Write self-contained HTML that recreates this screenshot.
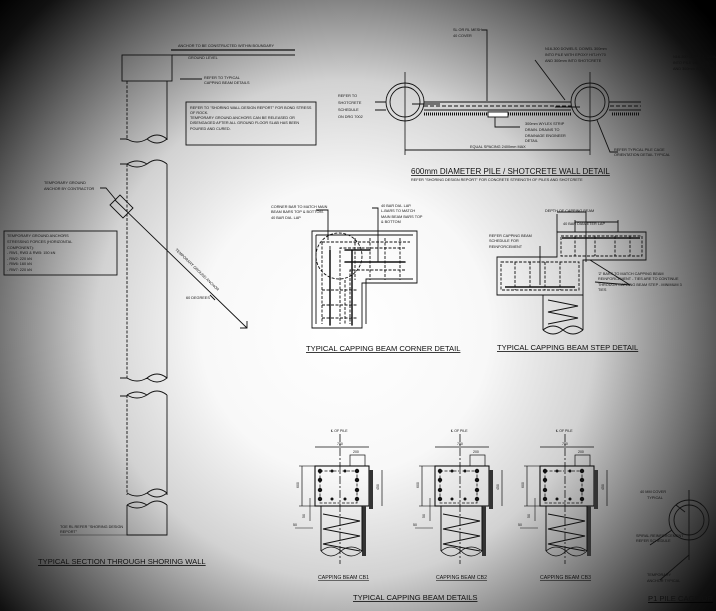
<!DOCTYPE html>
<html><head><meta charset="utf-8"><style>
html,body{margin:0;padding:0;background:#fff}
svg{display:block}
text{font-family:"Liberation Sans",sans-serif;fill:#111}
</style></head><body>
<svg width="716" height="611" viewBox="0 0 716 611" xmlns="http://www.w3.org/2000/svg">
<defs>
<radialGradient id="vg" gradientUnits="userSpaceOnUse" cx="345" cy="330" r="480">
<stop offset="0" stop-color="#ffffff"/>
<stop offset="0.3" stop-color="#f8f8f8"/>
<stop offset="0.52" stop-color="#d2d2d2"/>
<stop offset="0.75" stop-color="#666"/>
<stop offset="0.92" stop-color="#111"/>
<stop offset="1" stop-color="#000"/>
</radialGradient>
<g id="cb">
<line x1="25" y1="-32" x2="25" y2="98" stroke="#111" stroke-width="0.8" stroke-dasharray="8,2,2,2"/>
<line x1="0" y1="-19" x2="54" y2="-19" stroke="#111" stroke-width="0.7"/>
<rect x="35" y="-11" width="15" height="11" fill="none" stroke="#111" stroke-width="0.7"/>
<rect x="0" y="0" width="54" height="40" fill="none" stroke="#111" stroke-width="1.1"/>
<rect x="5" y="5" width="37" height="32" fill="none" stroke="#111" stroke-width="0.8" stroke-dasharray="3,1.5"/>
<g fill="#111"><circle cx="5" cy="5" r="2.2"/><circle cx="17" cy="5" r="1.5"/><circle cx="30" cy="5" r="1.5"/><circle cx="42" cy="5" r="2.2"/>
<circle cx="5" cy="14" r="2.2"/><circle cx="5" cy="24" r="2.2"/><circle cx="5" cy="33" r="2.2"/><circle cx="42" cy="14" r="2.2"/><circle cx="42" cy="24" r="2.2"/><circle cx="42" cy="33" r="2.2"/><circle cx="17" cy="33" r="1.5"/><circle cx="30" cy="33" r="1.5"/></g>
<line x1="-13" y1="0" x2="-13" y2="40" stroke="#111" stroke-width="0.7"/>
<line x1="-16" y1="0" x2="0" y2="0" stroke="#111" stroke-width="0.6"/><line x1="-16" y1="40" x2="0" y2="40" stroke="#111" stroke-width="0.6"/>
<line x1="67" y1="4" x2="67" y2="40" stroke="#111" stroke-width="0.7"/>
<rect x="54" y="4" width="4" height="39" fill="#333"/>
<rect x="47" y="40" width="4" height="50" fill="#333"/>
<path d="M6 40 V85 M47 40 V85" stroke="#111" stroke-width="1" fill="none"/>
<path d="M6 85 q10 10 20 0 q10 -8 21 0 M6 85 q10 -8 20 0 q10 10 21 0" stroke="#111" stroke-width="0.8" fill="none"/>
<path d="M8 48 L45 55 L8 63 L45 70 L8 78 L45 85" stroke="#111" stroke-width="1" fill="none"/>
<line x1="-5" y1="32" x2="-5" y2="55" stroke="#111" stroke-width="0.6"/>
<line x1="-20" y1="62" x2="-2" y2="62" stroke="#111" stroke-width="0.6"/>
<text x="-22" y="60" font-size="3.5">50</text>
<text x="-10" y="52" font-size="3.5" transform="rotate(-90 -10 52)">50</text>
<text x="-16" y="22" font-size="3.5" transform="rotate(-90 -16 22)">600</text>
<text x="64" y="24" font-size="3.5" transform="rotate(-90 64 24)">450</text>
<text x="22" y="-21" font-size="3.5">750</text><text x="38" y="-13" font-size="3.5">200</text>
<text x="16" y="-34" font-size="3.5">℄ OF PILE</text>
</g>
</defs>
<rect width="716" height="611" fill="url(#vg)"/>
<g stroke="#111" fill="none" stroke-width="0.9">
<line x1="171" y1="50" x2="295" y2="50" stroke-width="1.2"/>
<line x1="172" y1="55" x2="295" y2="55"/>
<rect x="122" y="55" width="50" height="26"/>
<line x1="180" y1="79" x2="202" y2="79"/>
<line x1="167" y1="81" x2="167" y2="140"/>
<line x1="127" y1="81" x2="127" y2="140" stroke-dasharray="3,1.5"/>
<path d="M120 139 h7 q10 6 20 0 q10 -8 20 0 q-10 8 -20 0 M127 164 q10 -6 20 0 q10 -8 20 0 M147 164 q-10 6 -20 0 M120 164 h7"/>
<line x1="167" y1="164" x2="167" y2="378"/>
<line x1="127" y1="164" x2="127" y2="378" stroke-dasharray="3,1.5"/>
<path d="M120 378 h7 q10 6 20 0 q10 -8 20 0 q-10 8 -20 0 M127 395 q10 -6 20 0 q10 -8 20 0 M147 395 q-10 6 -20 0 M120 396 h7"/>
<line x1="167" y1="395" x2="167" y2="495"/>
<line x1="127" y1="395" x2="127" y2="495" stroke-dasharray="3,1.5"/>
<path d="M127 493 q10 6 20 0 q10 -8 20 0 q-10 8 -20 0 M127 505 q10 -6 20 0 q10 -8 20 0 M147 505 q-10 6 -20 0"/>
<path d="M127 505 V535 H167 V505"/>
<line x1="60" y1="535" x2="127" y2="535" stroke-width="0.4"/>
<path d="M110 205 L120 195 L133 208 L123 218 Z"/>
<line x1="115" y1="200" x2="247" y2="328"/>
<path d="M240 328 H247 V321"/>
<path d="M100 188 L106 188 L116 200"/>
<rect x="186" y="102" width="130" height="43"/>
<rect x="4" y="231" width="113" height="44"/>
<line x1="210" y1="295" x2="215" y2="300"/>
<line x1="405" y1="72" x2="405" y2="155" stroke-width="0.8"/>
<line x1="590" y1="72" x2="590" y2="155" stroke-width="0.8"/>
<line x1="405" y1="150" x2="590" y2="150"/>
<circle cx="405" cy="102" r="19"/><circle cx="405" cy="102" r="15"/>
<circle cx="590" cy="102" r="19"/><circle cx="590" cy="102" r="15"/>
<path d="M375 102 H386 M375 110 H386 M424 102 H571 M424 110 H571 M609 102 H641 M609 110 H641"/>
<line x1="424" y1="106" x2="571" y2="106" stroke-dasharray="4,2"/>
<line x1="610" y1="106" x2="641" y2="106" stroke-dasharray="4,2"/>
<line x1="424" y1="114" x2="571" y2="114" stroke-width="3" stroke-dasharray="1,1"/>
<line x1="612" y1="114" x2="640" y2="114" stroke-width="3" stroke-dasharray="1,1"/>
<rect x="488" y="112" width="20" height="5" fill="#fff"/>
<path d="M482 30 H487 V101 M535 60 L565 100 M495 117 V127 H520 M597 120 L610 152 H618 M412 104 H440 M555 107 H580"/>
<path d="M312 231 H417 V283 H362 V328 H312 Z"/>
<path d="M316 235 H413 M316 235 V324 M413 279 H366 V324"/>
<circle cx="339" cy="256" r="23" stroke-dasharray="3,1.5"/>
<path d="M322 242 H410 M322 242 V324 M405 248 H340 V324 M405 270 H350 V324 M322 290 H358 M322 305 H358 M322 318 H358" stroke-dasharray="3,1.5"/>
<path d="M355 238 V280 M370 238 V280 M385 238 V280 M400 238 V280 M330 246 V324 M345 280 V324" stroke-dasharray="3,1.5"/>
<path d="M330 250 V325 M352 250 V325 M345 250 H370 M345 262 H405" stroke-width="1.5" stroke-linecap="round"/>
<path d="M316 210 H328 V240 M372 208 H378 V262"/>
<path d="M497 257 H557 V232 H646 V260 H583 V295 H497 Z"/>
<path d="M543 295 V330 M583 295 V330"/>
<path d="M543 330 q10 8 20 0 q10 -8 20 0 M543 330 q10 -8 20 0 q10 8 20 0"/>
<path d="M548 300 L578 306 L548 312 L578 318 L548 324" />
<path d="M501 262 H579 V290 H501 Z M561 236 H642 V256 H561 Z" stroke-dasharray="3,1.5"/>
<path d="M515 262 V290 M530 262 V290 M545 262 V290 M560 262 V290 M575 236 V256 M595 236 V256 M615 236 V256 M630 236 V256" stroke-dasharray="3,1.5"/>
<path d="M505 287 H575 M562 238 H640" stroke-width="1.5"/>
<path d="M557 212 H586 M557 214 V232 M586 212 V262 M575 222 H618 M575 220 V232 M618 220 V232"/>
<path d="M540 246 V285 M590 260 L630 285 M595 282 L630 285"/>
<circle cx="689" cy="520" r="20"/><circle cx="689" cy="520" r="15"/>
<line x1="689" y1="490" x2="689" y2="560"/>
<path d="M676 505 L685 512 M672 530 L650 545 M689 555 L660 580"/>
</g>
<use href="#cb" x="315" y="466"/>
<use href="#cb" x="435" y="466"/>
<use href="#cb" x="540" y="466"/>
<g font-size="3.8">
<text x="178" y="47">ANCHOR TO BE CONSTRUCTED WITHIN BOUNDARY</text>
<text x="188" y="59">GROUND LEVEL</text>
<text x="204" y="79">REFER TO TYPICAL</text><text x="204" y="84">CAPPING BEAM DETAILS</text>
<text x="190" y="109">REFER TO "SHORING WALL DESIGN REPORT" FOR BOND STRESS</text>
<text x="190" y="114">OF ROCK.</text>
<text x="190" y="119">TEMPORARY GROUND ANCHORS CAN BE RELEASED OR</text>
<text x="190" y="124">DISENGAGED AFTER ALL GROUND FLOOR SLAB HAS BEEN</text>
<text x="190" y="130">POURED AND CURED.</text>
<text x="44" y="184">TEMPORARY GROUND</text><text x="44" y="190">ANCHOR BY CONTRACTOR</text>
<text x="7" y="237">TEMPORARY GROUND ANCHORS</text><text x="7" y="243">STRESSING FORCES (HORIZONTAL</text><text x="7" y="249">COMPONENT):</text>
<text x="7" y="254">- RW1, RW3 &amp; RW5: 150 kN</text><text x="7" y="260">- RW2: 220 kN</text><text x="7" y="265">- RW6: 160 kN</text><text x="7" y="271">- RW7: 220 kN</text>
<text x="186" y="299">60 DEGREES</text>
<text x="175" y="250" transform="rotate(44 175 250)">TEMPORARY GROUND ANCHOR</text>
<text x="60" y="528">TOE RL REFER "SHORING DESIGN</text><text x="60" y="533">REPORT"</text>
<text x="338" y="97">REFER TO</text><text x="338" y="104">SHOTCRETE</text><text x="338" y="111">SCHEDULE</text><text x="338" y="118">ON DRG 7002</text>
<text x="453" y="31">SL OR RL MESH</text><text x="453" y="37">40 COVER</text>
<text x="545" y="50">N16-300 DOWELS. DOWEL 300mm</text><text x="545" y="56">INTO PILE WITH EPOXY HIT-HY70</text><text x="545" y="62">AND 300mm INTO SHOTCRETE</text>
<text x="673" y="58">N16-300 DOWELS. DOW</text><text x="673" y="64">INTO PILE WITH EPOX</text><text x="673" y="70">AND 300mm INTO SHO</text>
<text x="525" y="125">300mm WYLEX STRIP</text><text x="525" y="131">DRAIN. DRAINS TO</text><text x="525" y="137">DRAINAGE ENGINEER</text><text x="525" y="142">DETAIL</text>
<text x="470" y="148">EQUAL SPACING 2400mm MAX</text>
<text x="614" y="151">REFER TYPICAL PILE CAGE</text><text x="614" y="156">ORIENTATION DETAIL TYPICAL</text>
<text x="411" y="181">REFER "SHORING DESIGN REPORT" FOR CONCRETE STRENGTH OF PILES AND SHOTCRETE</text>
<text x="271" y="208">CORNER BAR TO MATCH MAIN</text><text x="271" y="213">BEAM BARS TOP &amp; BOTTOM.</text><text x="271" y="219">40 BAR DIA. LAP</text>
<text x="381" y="207">40 BAR DIA. LAP.</text><text x="381" y="212">L-BARS TO MATCH</text><text x="381" y="218">MAIN BEAM BARS TOP</text><text x="381" y="223">&amp; BOTTOM</text>
<text x="545" y="212">DEPTH OF CAPPING BEAM</text>
<text x="563" y="225">40 BAR DIAMETER LAP</text>
<text x="489" y="237">REFER CAPPING BEAM</text><text x="489" y="242">SCHEDULE FOR</text><text x="489" y="248">REINFORCEMENT</text>
<text x="598" y="275">'Z' BARS TO MATCH CAPPING BEAM</text><text x="598" y="280">REINFORCEMENT - TIES ARE TO CONTINUE</text><text x="598" y="286">THROUGH CAPPING BEAM STEP - MINIMUM 3</text><text x="598" y="291">TIES</text>
<text x="640" y="493">40 MM COVER</text><text x="647" y="499">TYPICAL</text>
<text x="636" y="537">SPIRAL REINFORCEMENT</text><text x="636" y="542">REFER SCHEDULE</text>
<text x="647" y="576">TEMPORARY</text><text x="647" y="582">ANCHOR TYPICAL</text>
</g>
<g font-size="5.2" text-decoration="underline">
<text x="318" y="579">CAPPING BEAM CB1</text>
<text x="436" y="579">CAPPING BEAM CB2</text>
<text x="540" y="579">CAPPING BEAM CB3</text>
</g>
<g font-size="7.6" text-decoration="underline">
<text x="38" y="564">TYPICAL SECTION THROUGH SHORING WALL</text>
<text x="306" y="351">TYPICAL CAPPING BEAM CORNER DETAIL</text>
<text x="497" y="350">TYPICAL CAPPING BEAM STEP DETAIL</text>
<text x="353" y="600">TYPICAL CAPPING BEAM DETAILS</text>
<text x="648" y="601">P1 PILE CAGE OR</text>
</g>
<text x="411" y="174" font-size="8" text-decoration="underline">600mm DIAMETER PILE / SHOTCRETE WALL DETAIL</text>
</svg>
</body></html>
